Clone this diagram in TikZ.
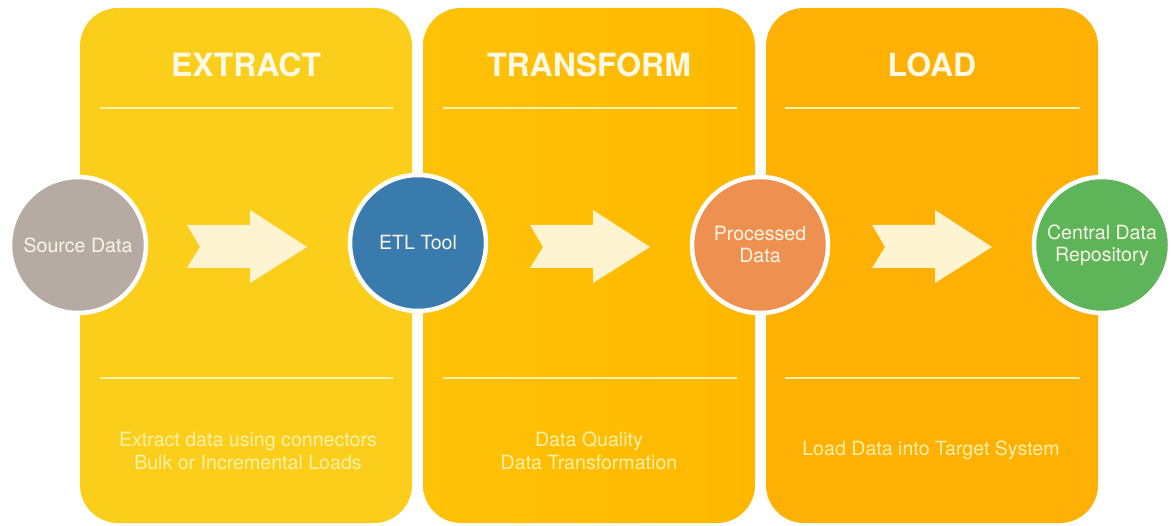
\documentclass[tikz,border=0pt]{standalone}
\usepackage{fontspec}
\setmainfont{TeX Gyre Heros}
\begin{document}
\begin{tikzpicture}[x=1pt,y=-1pt,
  panel/.style={rounded corners=38pt},
  sepline/.style={draw=linecol,line width=2.2pt},
  title/.style={text=titlecol,font=\bfseries\fontsize{32}{34}\selectfont,anchor=center},
  desc/.style={text=desccol,font=\fontsize{19.6}{23}\selectfont,align=center,anchor=center},
  disc/.style={circle,draw=white,line width=4.5pt,minimum size=136pt,inner sep=0pt,
    text=circtext,font=\fontsize{19.6}{22}\selectfont,align=center},
  flow/.style={fill=arrowcol,draw=none}
]
\definecolor{extractcol}{RGB}{252,206,28}
\definecolor{transL}{RGB}{255,194,8}
\definecolor{transR}{RGB}{255,184,0}
\definecolor{loadcol}{RGB}{255,176,4}
\definecolor{linecol}{RGB}{255,240,170}
\definecolor{titlecol}{RGB}{255,249,230}
\definecolor{desccol}{RGB}{255,240,168}
\definecolor{arrowcol}{RGB}{255,244,210}
\definecolor{circtext}{RGB}{250,245,230}
\definecolor{graycol}{RGB}{181,171,162}
\definecolor{bluecol}{RGB}{58,123,174}
\definecolor{orangecol}{RGB}{238,144,80}
\definecolor{greencol}{RGB}{94,180,88}

\useasboundingbox (0,0) rectangle (1172,526);
\fill[white] (0,0) rectangle (1172,526);

% panels
\fill[panel,extractcol] (80,8) rectangle (412,523);
\shade[panel,left color=transL,right color=transR] (423,8) rectangle (755,523);
\fill[panel,loadcol] (766,8) rectangle (1098,523);

% separator lines
\draw[sepline] (100,108) -- (393,108);
\draw[sepline] (100,378) -- (393,378);
\draw[sepline] (443,108) -- (737,108);
\draw[sepline] (443,378) -- (737,378);
\draw[sepline] (785,108) -- (1080,108);
\draw[sepline] (785,378) -- (1080,378);

% titles
\node[title] (t1) at (246,65) {EXTRACT};
\node[title] (t2) at (589,65) {TRANSFORM};
\node[title] (t3) at (932,65) {LOAD};

% descriptions
\node[desc] (d1) at (248,451) {Extract data using connectors\\Bulk or Incremental Loads};
\node[desc] (d2) at (589,451) {Data Quality\\Data Transformation};
\node[desc] (d3) at (931,450) {Load Data into Target System};

% arrows
\foreach \ax in {187,530,872}{
  \fill[flow] (\ax,225) -- ++(63,0) -- ++(0,-15) -- ++(57,37) -- ++(-57,36) -- ++(0,-15)
    -- ++(-63,0) -- ++(13,-21) -- cycle;
}

% circles
\node[disc,fill=graycol] (src) at (78,245) {Source Data};
\node[disc,fill=bluecol] (etl) at (418,243) {ETL Tool};
\node[disc,fill=orangecol] (proc) at (760,245) {Processed\\Data};
\node[disc,fill=greencol] (repo) at (1102,245) {Central Data\\Repository};
\end{tikzpicture}
\end{document}
